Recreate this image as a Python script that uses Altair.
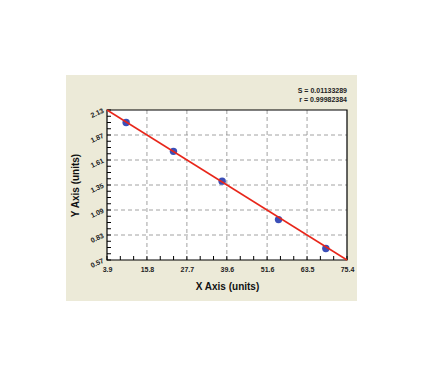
import altair as alt
import pandas as pd

# data
x_vals = [9.6, 23.7, 38.2, 55.0, 69.1]
y_vals = [2.00, 1.70, 1.39, 0.99, 0.69]
fit_x = [3.9, 75.4]
fit_y = [2.13, 0.57]
x_ticks = [3.9, 15.8, 27.7, 39.6, 51.6, 63.5, 75.4]
y_ticks = [0.57, 0.83, 1.09, 1.35, 1.61, 1.87, 2.13]
stats = ["S = 0.01133289", "r = 0.99982384"]

W, H = 240, 150
FONT = "Liberation Sans"

pts = pd.DataFrame({"x": x_vals, "y": y_vals})
fit = pd.DataFrame({"x": fit_x, "y": fit_y})

xs = alt.Scale(domain=[x_ticks[0], x_ticks[-1]], nice=False, zero=False)
ys = alt.Scale(domain=[y_ticks[0], y_ticks[-1]], nice=False, zero=False)

xa = alt.Axis(values=x_ticks, title="X Axis (units)", grid=False, ticks=False,
              domain=False, labelFont=FONT, labelFontWeight="bold",
              labelFontSize=7, labelColor="#222", labelPadding=5,
              labelOverlap=False, labelFlush=False,
              labelExpr="format(datum.value, '.1f')",
              titleFont=FONT, titleFontSize=10, titleFontWeight="bold",
              titleColor="#111", titlePadding=9, zindex=2)
ya = alt.Axis(values=y_ticks, title="Y Axis (units)", grid=False, ticks=False,
              domain=False, labelFont=FONT, labelFontWeight="bold",
              labelFontSize=7, labelColor="#222", labelPadding=4,
              labelAngle=335, labelFlush=False, labelOverlap=False,
              labelExpr="format(datum.value, '.2f')",
              titleFont=FONT, titleFontSize=10, titleFontWeight="bold",
              titleColor="#111", titlePadding=8, zindex=2)

# minor ticks
x_minor = []
for a, b in zip(x_ticks[:-1], x_ticks[1:]):
    for k in range(3):
        x_minor.append(a + (b - a) * k / 3)
x_minor.append(x_ticks[-1])
y_minor = []
for a, b in zip(y_ticks[:-1], y_ticks[1:]):
    for k in range(4):
        y_minor.append(a + (b - a) * k / 4)
y_minor.append(y_ticks[-1])

one = pd.DataFrame({"a": [0]})
panel = alt.Chart(one).mark_rect(color="#ECEAD8").encode(
    x=alt.value(-41), x2=alt.value(250), y=alt.value(-35), y2=alt.value(191))
plotbg = alt.Chart(one).mark_rect(color="white").encode(
    x=alt.value(0), x2=alt.value(W), y=alt.value(0), y2=alt.value(H))

xgrid = alt.Chart(pd.DataFrame({"x": x_ticks[1:-1]})).mark_rule(
    color="#8a8a8a", strokeDash=[4, 3], strokeWidth=0.8).encode(
    x=alt.X("x:Q", scale=xs, axis=xa), y=alt.value(0), y2=alt.value(H))
ygrid = alt.Chart(pd.DataFrame({"y": y_ticks[1:-1]})).mark_rule(
    color="#8a8a8a", strokeDash=[4, 3], strokeWidth=0.8).encode(
    y=alt.Y("y:Q", scale=ys, axis=ya), x=alt.value(0), x2=alt.value(W))

xtk = alt.Chart(pd.DataFrame({"x": x_minor})).mark_rule(color="black", strokeWidth=1).encode(
    x=alt.X("x:Q", scale=xs, axis=xa), y=alt.value(H - 4), y2=alt.value(H))
ytk = alt.Chart(pd.DataFrame({"y": y_minor})).mark_rule(color="black", strokeWidth=1).encode(
    y=alt.Y("y:Q", scale=ys, axis=ya), x=alt.value(0), x2=alt.value(4))

box = alt.Chart(one).mark_rect(
    fillOpacity=0, stroke="black", strokeWidth=1.2).encode(
    x=alt.value(0), x2=alt.value(W), y=alt.value(0), y2=alt.value(H))

line = alt.Chart(fit).mark_line(color="#E8261A", strokeWidth=1.5).encode(
    x=alt.X("x:Q", scale=xs, axis=xa),
    y=alt.Y("y:Q", scale=ys, axis=ya),
)
points = alt.Chart(pts).mark_circle(size=55, color="#3B4FB8", opacity=1).encode(
    x=alt.X("x:Q", scale=xs, axis=xa), y=alt.Y("y:Q", scale=ys, axis=ya))

def stat_layer(txt, yy):
    return alt.Chart(pd.DataFrame({"t": [txt]})).mark_text(
        align="right", baseline="middle", font=FONT, fontSize=7, fontWeight="bold",
        color="#222").encode(text="t:N", x=alt.value(W), y=alt.value(yy))

s1 = stat_layer(stats[0], -19)
s2 = stat_layer(stats[1], -10)

chart = alt.layer(panel, plotbg, xgrid, ygrid, xtk, ytk, box, points, line, s1, s2).properties(
    width=W, height=H,
    padding={"left": 107, "top": 110, "right": 80, "bottom": 116},
    autosize="none",
).configure_view(stroke=None).configure_axis(labelOverlap=False).configure(background="white")

chart.save("out.html", embed_options={"renderer": "svg", "actions": False})
